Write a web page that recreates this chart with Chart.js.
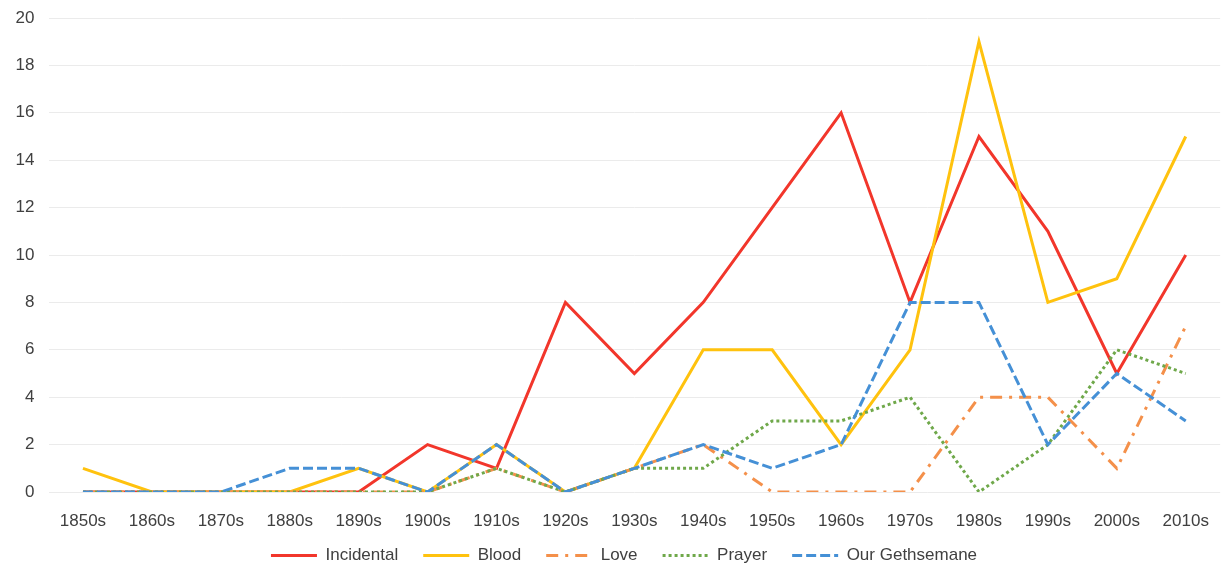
<!DOCTYPE html>
<html lang="en">
<head>
    <meta charset="UTF-8">
    <title>Themes by decade</title>
    <script src="https://cdn.jsdelivr.net/npm/chart.js"></script>
    <style>
        html, body { margin: 0; padding: 0; background: #fff; }
        #wrap { width: 1228px; height: 567px; }
    </style>
</head>
<body>
    <div id="wrap"><canvas id="themeChart"></canvas></div>

    <script>
        // Decades on the x axis
        const decades = ['1850s', '1860s', '1870s', '1880s', '1890s', '1900s', '1910s', '1920s', '1930s',
                         '1940s', '1950s', '1960s', '1970s', '1980s', '1990s', '2000s', '2010s'];

        // Counts per decade
        const incidental = [0, 0, 0, 0, 0, 2, 1, 8, 5, 8, 12, 16, 8, 15, 11, 5, 10];
        const blood      = [1, 0, 0, 0, 1, 0, 2, 0, 1, 6, 6, 2, 6, 19, 8, 9, 15];
        const love       = [0, 0, 0, 0, 0, 0, 1, 0, 1, 2, 0, 0, 0, 4, 4, 1, 7];
        const prayer     = [0, 0, 0, 0, 0, 0, 1, 0, 1, 1, 3, 3, 4, 0, 2, 6, 5];
        const gethsemane = [0, 0, 0, 1, 1, 0, 2, 0, 1, 2, 1, 2, 8, 8, 2, 5, 3];

        const yMax = 20;
        const yStep = 2;

        const fontFamily = '"Liberation Sans", Arial, Helvetica, sans-serif';
        const textColor = '#404040';

        function series(label, data, color, dash, order) {
            return {
                label: label,
                data: data,
                borderColor: color,
                backgroundColor: color,
                borderWidth: 3,
                borderDash: dash,
                borderCapStyle: 'butt',
                pointRadius: 0,
                pointHoverRadius: 0,
                pointStyle: 'line',
                tension: 0,
                fill: false,
                order: order
            };
        }

        // tick labels are clipped to their axis box; give them the room they need
        const labelRoom = {
            id: 'labelRoom',
            afterLayout(chart) {
                chart.scales.x.bottom = chart.height;
                chart.scales.y.left = 0;
            }
        };

        const ctx = document.getElementById('themeChart').getContext('2d');
        const themeChart = new Chart(ctx, {
            type: 'line',
            data: {
                labels: decades,
                datasets: [
                    series('Incidental', incidental, '#F2362B', [], 5),
                    series('Blood', blood, '#FFC20E', [], 4),
                    series('Love', love, '#F4904A', [12, 7, 3, 7], 3),
                    series('Prayer', prayer, '#6FA84A', [3, 3], 2),
                    series('Our Gethsemane', gethsemane, '#4590D6', [10, 4], 1)
                ]
            },
            options: {
                responsive: true,
                maintainAspectRatio: false,
                animation: false,
                layout: {
                    padding: { left: 24, right: 4, top: 18, bottom: -7 }
                },
                plugins: {
                    tooltip: { enabled: false },
                    legend: {
                        position: 'bottom',
                        labels: {
                            usePointStyle: true,
                            pointStyleWidth: 46,
                            padding: 25,
                            color: textColor,
                            font: { family: fontFamily, size: 17 },
                            generateLabels: (chart) => Chart.defaults.plugins.legend.labels.generateLabels(chart).map(item => {
                                const ds = chart.data.datasets[item.datasetIndex];
                                item.lineDash = ds.borderDash;
                                item.lineWidth = ds.borderWidth;
                                item.strokeStyle = ds.borderColor;
                                return item;
                            }),
                            sort: (a, b) => a.datasetIndex - b.datasetIndex
                        }
                    }
                },
                scales: {
                    x: {
                        offset: true,
                        grid: { display: false, drawTicks: false },
                        border: { display: false },
                        ticks: {
                            padding: 19,
                            color: textColor,
                            font: { family: fontFamily, size: 17 },
                            maxRotation: 0,
                            autoSkip: false
                        },
                        afterFit: (scale) => { scale.height = 30; }
                    },
                    y: {
                        min: 0,
                        max: yMax,
                        grid: { color: '#ebebeb', lineWidth: 1, drawTicks: false },
                        border: { display: false },
                        ticks: {
                            stepSize: yStep,
                            padding: 14,
                            color: textColor,
                            font: { family: fontFamily, size: 17 }
                        },
                        afterFit: (scale) => {
                            scale.width = 24.5;
                            scale.paddingTop = 0;
                            scale.paddingBottom = 0;
                        }
                    }
                }
            },
            plugins: [labelRoom]
        });
    </script>
</body>
</html>
